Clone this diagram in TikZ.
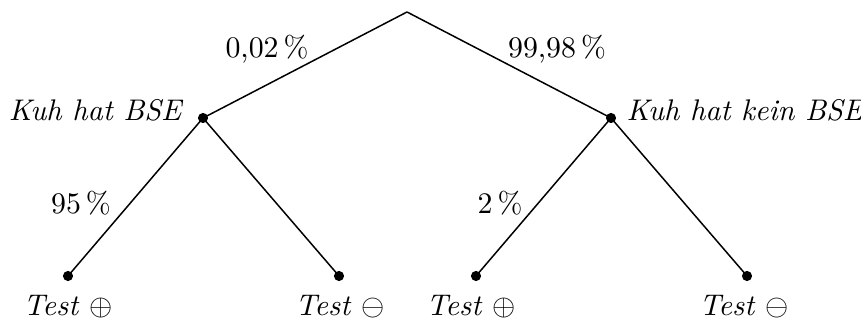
\documentclass[tikz,border=0pt]{standalone}
\begin{document}
\begin{tikzpicture}[x=0.335pt,y=-0.335pt,
  dot/.style={circle,fill=black,inner sep=0pt,minimum size=3.4pt},
  edge/.style={line width=0.5pt},
  lbl/.style={inner sep=0pt}]
\useasboundingbox (0,0) rectangle (861,320);
\coordinate (root) at (407,12);
\node[dot] (L) at (203,118) {};
\node[dot] (R) at (611,118) {};
\node[dot] (LL) at (68,276) {};
\node[dot] (LR) at (339,276) {};
\node[dot] (RL) at (476,276) {};
\node[dot] (RR) at (747,276) {};
\draw[edge] (root) -- (L.center);
\draw[edge] (root) -- (R.center);
\draw[edge] (L.center) -- (LL.center);
\draw[edge] (L.center) -- (LR.center);
\draw[edge] (R.center) -- (RL.center);
\draw[edge] (R.center) -- (RR.center);
\node[lbl] (p1) at (267,49) {0,02\,\%};
\node[lbl] (p2) at (557,49) {99,98\,\%};
\node[lbl,anchor=east] (tL) at (184,110) {\textit{Kuh hat BSE}};
\node[lbl,anchor=west] (tR) at (626,110) {\textit{Kuh hat kein BSE}};
\node[lbl] (p3) at (81,203) {95\,\%};
\node[lbl] (p4) at (500,203) {2\,\%};
\node[lbl] (t1) at (68,307) {\textit{Test} $\oplus$};
\node[lbl] (t2) at (340,307) {\textit{Test} $\ominus$};
\node[lbl] (t3) at (471,307) {\textit{Test} $\oplus$};
\node[lbl] (t4) at (744,307) {\textit{Test} $\ominus$};
\end{tikzpicture}
\end{document}
